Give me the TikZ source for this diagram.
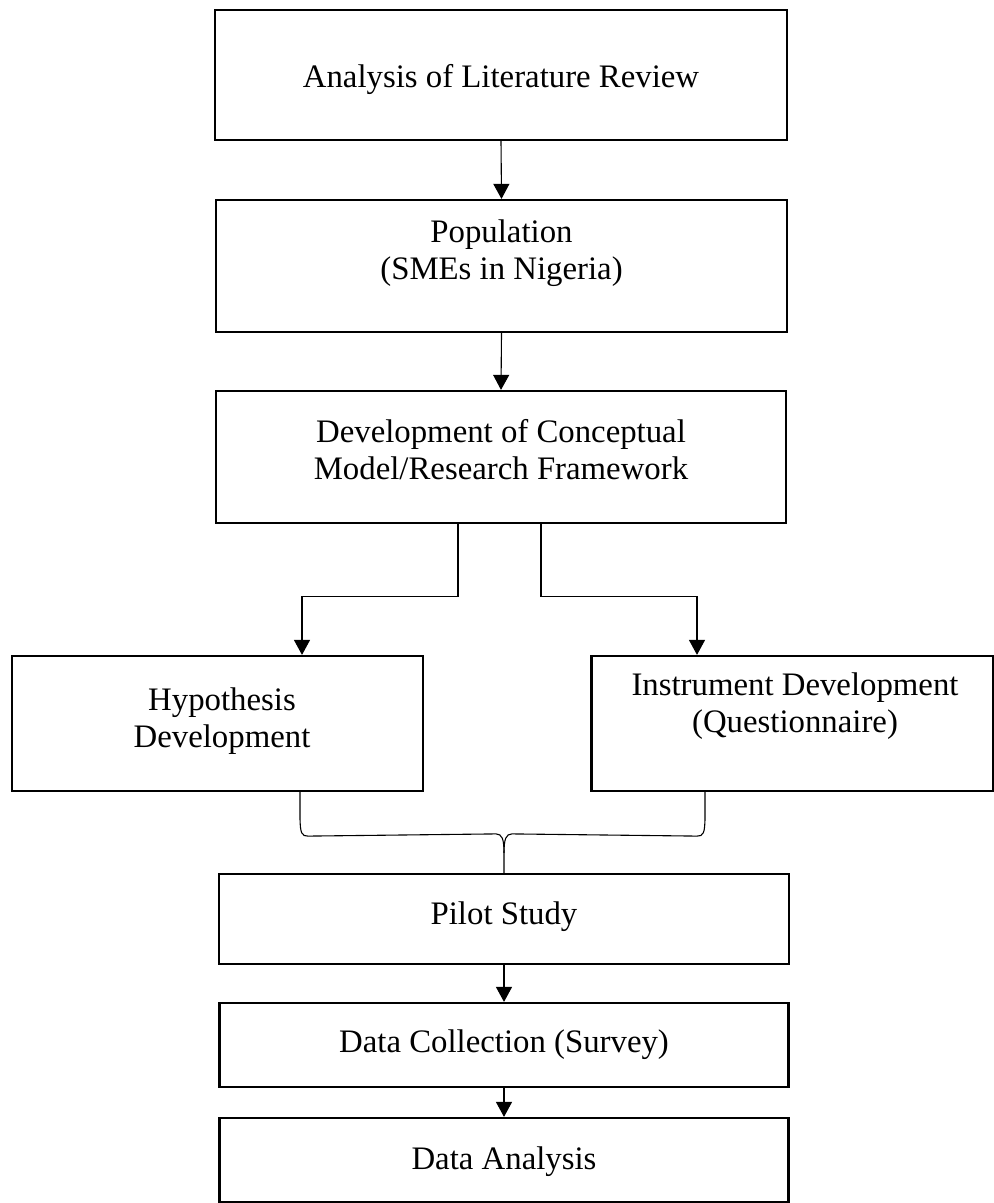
\documentclass[tikz,border=0pt]{standalone}
\usepackage{fontspec}
\setmainfont{Liberation Serif}
\usetikzlibrary{arrows.meta,calc}

\tikzset{
  box/.style={draw, line width=1.1pt, rectangle, inner sep=0pt},
  txt/.style={align=center, font=\fontsize{16.4}{18.5}\selectfont, inner sep=0pt},
  conn/.style={line width=0.55pt},
  arr/.style={conn, -{Triangle[width=8pt,length=7.5pt]}}
}

\begin{document}
\begin{tikzpicture}[x=0.5pt, y=-0.5pt]
  \useasboundingbox (0,0) rectangle (994,1203);

  % boxes
  \node[box, minimum width=286pt, minimum height=65pt]   (lit)   at (501,75)      {};
  \node[box, minimum width=285.5pt, minimum height=66pt] (pop)   at (501.5,266)   {};
  \node[box, minimum width=285pt, minimum height=66pt]   (model) at (501,457)     {};
  \node[box, minimum width=205.5pt, minimum height=67.5pt] (hyp) at (217.5,723.5) {};
  \node[box, minimum width=201pt, minimum height=67.5pt] (inst)  at (792.5,723.5) {};
  \node[box, minimum width=285pt, minimum height=45pt]   (pilot) at (504,919)     {};
  \node[box, minimum width=284.5pt, minimum height=42pt] (coll)  at (504,1045)    {};
  \node[box, minimum width=284.5pt, minimum height=42pt] (anal)  at (504,1160)    {};

  % labels
  \node[txt] (litT)   at ($(lit.center)+(0,4)$)     {Analysis of Literature Review};
  \node[txt] (popT)   at ($(pop.center)+(0,-13)$)   {Population\\(SMEs in Nigeria)};
  \node[txt] (modelT) at ($(model.center)+(0,-7)$)  {Development of Conceptual\\Model/Research Framework};
  \node[txt] (hypT)   at ($(hyp.center)+(4.5,-2)$)  {Hypothesis\\Development};
  \node[txt] (instT)  at ($(inst.center)+(2.5,-17)$){Instrument Development\\(Questionnaire)};
  \node[txt] (pilotT) at ($(pilot.center)+(0,-2)$)  {Pilot Study};
  \node[txt] (collT)  at (coll.center)              {Data Collection (Survey)};
  \node[txt] (analT)  at ($(anal.center)+(0,2)$)    {Data Analysis};

  % straight arrows down the chain
  \draw[arr] (lit.south) -- (pop.north);
  \draw[arr] (pop.south) -- (model.north);
  \draw[arr] (pilot.south) -- (coll.north);
  \draw[arr] (coll.south) -- (anal.north);

  % split from the framework box to the two parallel steps
  \coordinate (splitL) at ($(model.south)+(-43,0)$);
  \coordinate (splitR) at ($(model.south)+(40,0)$);
  \coordinate (hypIn)  at ($(hyp.north)+(84.5,0)$);
  \coordinate (instIn) at ($(inst.north)+(-95.5,0)$);
  \draw[arr] (splitL) -- ++(0,72) -| (hypIn);
  \draw[arr] (splitR) -- ++(0,72) -| (instIn);

  % brace joining both steps into the pilot study
  \coordinate (hypOut)  at ($(hyp.south)+(82.5,0)$);
  \coordinate (instOut) at ($(inst.south)+(-87.5,0)$);
  \coordinate (pilotIn) at (pilot.north);
  \draw[conn] (hypOut) -- ($(hypOut)+(0,24)$)
      .. controls ($(hypOut)+(0,42)$) and ($(hypOut)+(2,44)$) .. ($(hypOut)+(8,44)$)
      -- ($(pilotIn)+(-8,-39)$)
      .. controls ($(pilotIn)+(-2,-39)$) and ($(pilotIn)+(0,-34)$) .. ($(pilotIn)+(0,-20)$)
      -- (pilotIn);
  \draw[conn] (instOut) -- ($(instOut)+(0,24)$)
      .. controls ($(instOut)+(0,42)$) and ($(instOut)+(-2,44)$) .. ($(instOut)+(-8,44)$)
      -- ($(pilotIn)+(8,-39)$)
      .. controls ($(pilotIn)+(2,-39)$) and ($(pilotIn)+(0,-34)$) .. ($(pilotIn)+(0,-20)$);
\end{tikzpicture}
\end{document}
